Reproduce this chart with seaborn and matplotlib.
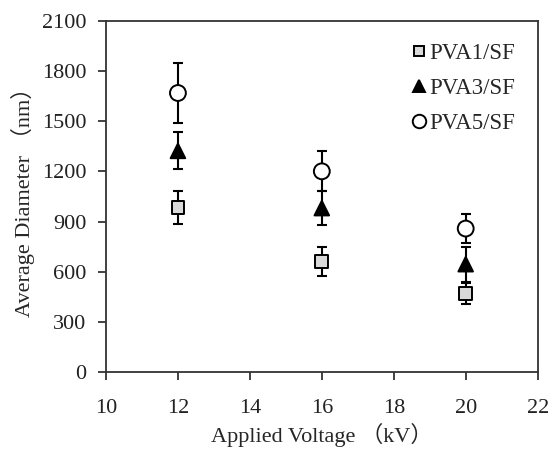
import matplotlib
matplotlib.use("Agg")
import matplotlib.pyplot as plt
import seaborn as sns
import pandas as pd

# applied voltage (kV)
voltage = [12, 16, 20]
series_names = ["PVA1/SF", "PVA3/SF", "PVA5/SF"]

# average diameter (nm) and error bar half-widths
pva1_mean = [985, 660, 470]
pva1_err = [100, 85, 60]
pva3_mean = [1322, 980, 645]
pva3_err = [110, 100, 105]
pva5_mean = [1668, 1200, 858]
pva5_err = [182, 120, 85]

rows = []
for name, means, errs in zip(series_names,
                             [pva1_mean, pva3_mean, pva5_mean],
                             [pva1_err, pva3_err, pva5_err]):
    for v, m, e in zip(voltage, means, errs):
        rows.append({"voltage": v, "diameter": m, "err": e, "series": name})
df = pd.DataFrame(rows)

sns.set_style("white")
plt.rcParams["font.family"] = ["Liberation Serif", "Noto Sans CJK SC"]

fig, ax = plt.subplots(figsize=(5.52, 4.5), dpi=100)
fig.subplots_adjust(left=0.192, right=0.974, bottom=0.173, top=0.954)

ax.errorbar(df["voltage"], df["diameter"], yerr=df["err"], fmt="none",
            ecolor="black", elinewidth=1.5, capsize=3.8, capthick=1.5, zorder=2)

sns.scatterplot(data=df, x="voltage", y="diameter",
                hue="series", style="series", size="series",
                palette={"PVA1/SF": "#d9d9d9", "PVA3/SF": "black", "PVA5/SF": "white"},
                markers={"PVA1/SF": "s", "PVA3/SF": "^", "PVA5/SF": "o"},
                sizes={"PVA1/SF": 85, "PVA3/SF": 110, "PVA5/SF": 130},
                edgecolor="black", linewidth=1.4, ax=ax, zorder=3)

ax.set_xlim(10, 22)
ax.set_ylim(0, 2100)
ax.set_xticks(range(10, 23, 2))
ax.set_yticks(range(0, 2101, 300))
ax.tick_params(axis="both", which="both", direction="out", length=6, width=1.2,
               labelsize=16, colors="#222222", bottom=True, left=True, top=False, right=False)
ax.tick_params(axis="x", pad=13)
ax.tick_params(axis="y", pad=8)
for sp in ax.spines.values():
    sp.set_color("#333333")
    sp.set_linewidth(1.3)

ax.set_xlabel("Applied Voltage （kV）", fontsize=16, labelpad=4)
ax.set_ylabel("Average Diameter （nm）", fontsize=16, labelpad=5)

handles, labels = ax.get_legend_handles_labels()
leg = ax.legend(handles, labels, loc="upper right", frameon=False, fontsize=16.5,
                handlelength=0.8, handletextpad=0.05, labelspacing=0.6,
                markerscale=0.85, bbox_to_anchor=(0.995, 0.995))

fig.savefig("out.png", dpi=100)
